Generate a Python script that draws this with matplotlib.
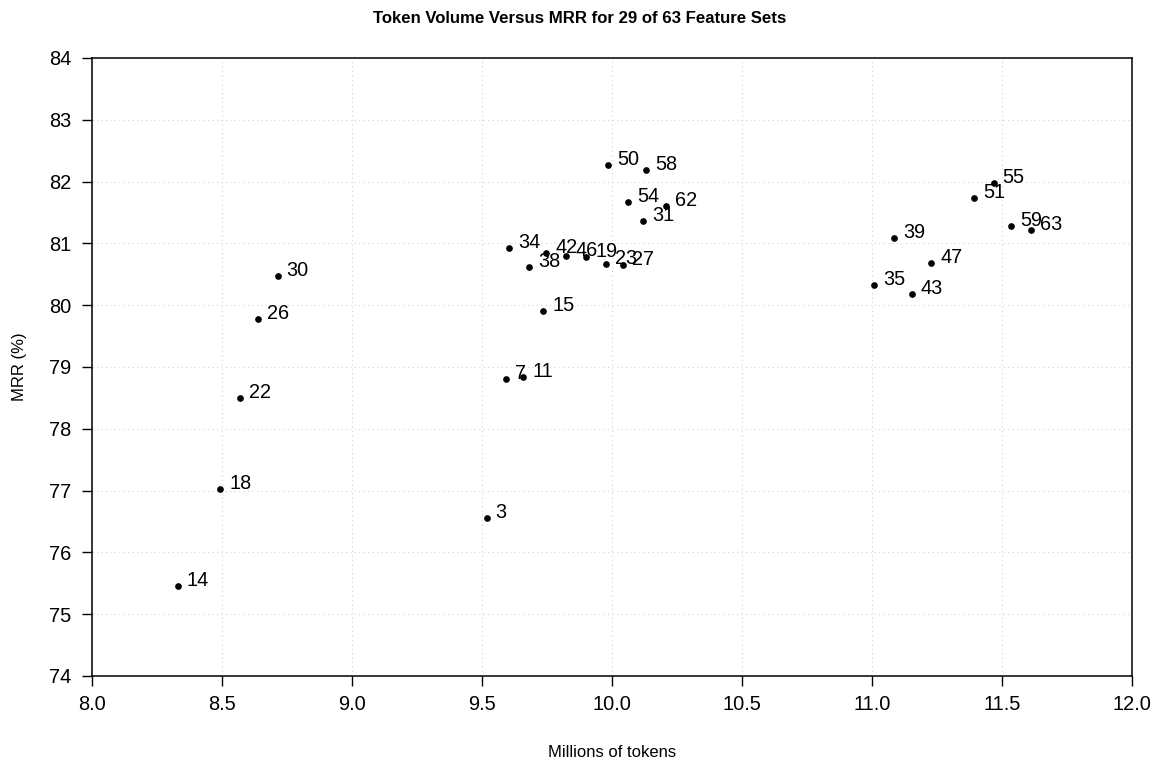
import numpy as np
import matplotlib
matplotlib.use("Agg")
import matplotlib.pyplot as plt

plt.rcParams['font.family'] = ['Liberation Sans', 'DejaVu Sans']

# feature set id, token volume (millions), MRR (%)
set_ids = [3, 7, 11, 14, 15, 18, 19, 22, 23, 26, 27, 30, 31, 34, 35,
           38, 39, 42, 43, 46, 47, 50, 51, 54, 55, 58, 59, 62, 63]
tokens = [9.518, 9.592, 9.659, 8.330, 9.736, 8.494, 9.900, 8.570, 9.976,
          8.637, 10.043, 8.714, 10.119, 9.603, 11.008, 9.680, 11.085,
          9.746, 11.153, 9.823, 11.227, 9.986, 11.392, 10.062, 11.468,
          10.130, 11.536, 10.207, 11.612]
mrr = [76.56, 78.81, 78.83, 75.45, 79.90, 77.03, 80.78, 78.50, 80.67,
       79.77, 80.65, 80.48, 81.37, 80.93, 80.33, 80.62, 81.08, 80.84,
       80.18, 80.80, 80.69, 82.27, 81.73, 81.675, 81.98, 82.19, 81.28,
       81.605, 81.21]

fig = plt.figure(figsize=(11.6, 7.64), dpi=100)
ax = fig.add_axes([0.0793, 0.1152, 0.8966, 0.8089])

ax.plot(tokens, mrr, 'o', color='black', markersize=3.8, zorder=3)
for sid, x, y in zip(set_ids, tokens, mrr):
    ax.annotate(str(sid), (x, y), xytext=(6.5, 0), textcoords='offset points',
                ha='left', va='baseline', fontsize=14.3, color='black')

ax.set_xlim(8, 12)
ax.set_ylim(74, 84)
ax.set_xticks(np.arange(8, 12.01, 0.5))
ax.set_xticklabels(['%.1f' % v for v in np.arange(8, 12.01, 0.5)])
ax.set_yticks(np.arange(74, 85, 1))
ax.grid(True, color='#d3d3d3', linestyle=(0, (1, 3)), linewidth=0.8)
ax.set_axisbelow(True)

ax.tick_params(axis='both', direction='out', length=7, width=1,
               labelsize=14.4, colors='black')
ax.tick_params(axis='x', pad=7)
ax.tick_params(axis='y', pad=8)
for side in ax.spines.values():
    side.set_linewidth(1.1)
    side.set_color('black')

ax.set_xlabel('Millions of tokens', fontsize=12, labelpad=22)
ax.set_ylabel('MRR (%)', fontsize=12, labelpad=16)
fig.text(0.5, 0.976, 'Token Volume Versus MRR for 29 of 63 Feature Sets',
         ha='center', va='center', fontsize=12.1, fontweight='bold')

fig.savefig('out.png', dpi=100)
